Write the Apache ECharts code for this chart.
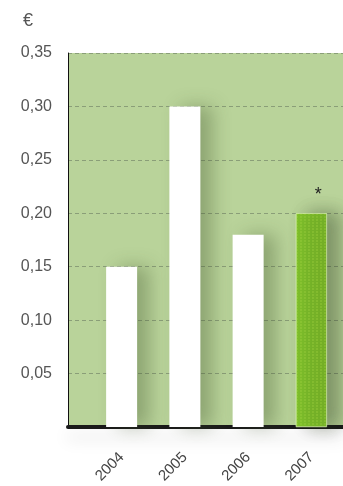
<!DOCTYPE html>
<html><head><meta charset="utf-8">
<style>html,body{margin:0;padding:0;background:#fff}#c{width:343px;height:486px}</style>
<script src="https://cdn.jsdelivr.net/npm/echarts@6/dist/echarts.min.js"></script>
</head><body><div id="c"></div>
<script>
const categories = ['2004', '2005', '2006', '2007'];
const values = [0.15, 0.30, 0.18, 0.20];
const yMin = 0, yMax = 0.35, yStep = 0.05;
const unitLabel = '€';
const noteMark = '*';

const chart = echarts.init(document.getElementById('c'), null, {renderer: 'canvas'});
const fmt = v => v === 0 ? '' : v.toFixed(2).replace('.', ',');
const font = 'Liberation Sans';
const option = {
  animation: false,
  grid: [
    {left: 68, right: 0, top: 53, bottom: 59, show: true, backgroundColor: '#b9d39a', borderWidth: 0},
    {left: 90, right: 0, top: 53, bottom: 59, show: false}
  ],
  xAxis: [
    {type: 'category', gridIndex: 0, data: categories,
      axisLine: {show: true, onZero: false, lineStyle: {color: '#1a1a1a', width: 4, shadowColor: 'rgba(0,0,0,0.15)', shadowBlur: 16, shadowOffsetY: 10}},
      axisTick: {show: false}, axisLabel: {show: false}, splitLine: {show: false}},
    {type: 'category', gridIndex: 1, data: categories,
      axisLine: {show: false},
      axisTick: {show: false},
      axisLabel: {rotate: 45, margin: 28, fontSize: 15, color: '#444', fontFamily: font}}
  ],
  yAxis: [
    {type: 'value', gridIndex: 0, min: yMin, max: yMax, interval: yStep,
      name: unitLabel, nameLocation: 'end', nameGap: 23,
      nameTextStyle: {align: 'right', padding: [0, 35, 0, 0], fontSize: 18, color: '#555', fontFamily: font},
      axisLine: {show: true, lineStyle: {color: '#111', width: 1}},
      axisTick: {show: false},
      axisLabel: {formatter: fmt, margin: 16, fontSize: 16, color: '#555', fontFamily: font},
      splitLine: {show: true, lineStyle: {color: '#8a9e78', type: [4, 3], width: 1}}},
    {type: 'value', gridIndex: 1, min: yMin, max: yMax, interval: yStep, show: false}
  ],
  series: [{
    type: 'bar', xAxisIndex: 1, yAxisIndex: 1,
    barWidth: 31,
    data: values.map((v, i) => i === values.length - 1 ? {
      value: v,
      itemStyle: {color: '#82c42c', borderColor: '#d8f0b0', borderWidth: 0.5,
        decal: {symbol: 'rect', symbolSize: 0.7, color: 'rgba(170,220,70,0.55)', dashArrayX: [2, 2], dashArrayY: [2, 1]}},
      label: {show: true, position: 'top', formatter: noteMark, offset: [7, -4], fontSize: 18, color: '#222'}
    } : v),
    itemStyle: {color: '#ffffff', shadowColor: 'rgba(60,80,40,0.35)', shadowBlur: 18, shadowOffsetX: 12}
  }]
};
chart.setOption(option);
</script></body></html>
